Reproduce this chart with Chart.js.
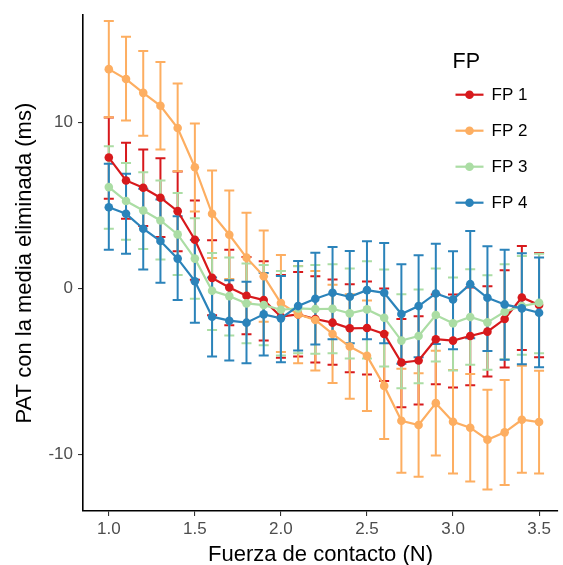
<!DOCTYPE html>
<html>
<head>
<meta charset="utf-8">
<script src="https://cdn.jsdelivr.net/npm/chart.js@4/dist/chart.umd.min.js"></script>
<style>
  html, body { margin: 0; padding: 0; background: #ffffff; }
  #wrap { width: 563px; height: 565px; }
</style>
</head>
<body>
<div id="wrap"><canvas id="chart" width="563" height="565"></canvas></div>
<script>
// Contact force (N)
const fuerza = [1.0, 1.1, 1.2, 1.3, 1.4, 1.5, 1.6, 1.7, 1.8, 1.9, 2.0, 2.1, 2.2,
                2.3, 2.4, 2.5, 2.6, 2.7, 2.8, 2.9, 3.0, 3.1, 3.2, 3.3, 3.4, 3.5];

const seriesNames = ['FP 1', 'FP 2', 'FP 3', 'FP 4'];
const seriesColors = ['#D7191C', '#FDAE61', '#ABDDA4', '#2B83BA'];

// Mean-removed PAT (ms) with lower / upper error limits
const fp1Mean  = [7.87, 6.49, 6.05, 5.45, 4.64, 2.92, 0.62, 0.04, -0.46, -0.72, -1.72, -1.58, -1.86, -2.08, -2.42, -2.40, -2.76, -4.48, -4.36, -3.08, -3.16, -2.88, -2.62, -1.86, -0.56, -1.02];
const fp1Lower = [5.39, 4.18, 3.74, 3.08, 2.22, 0.50, -1.64, -2.24, -2.78, -3.16, -4.20, -4.12, -4.48, -4.62, -5.07, -5.20, -5.59, -7.17, -7.01, -5.79, -5.99, -5.85, -5.33, -4.78, -3.72, -4.16];
const fp1Upper = [10.29, 8.77, 8.35, 7.83, 7.03, 5.29, 2.88, 2.32, 1.88, 1.62, 0.80, 0.98, 0.72, 0.52, 0.24, 0.40, -0.02, -1.86, -1.70, -0.38, -0.38, 0.04, 0.12, 1.08, 2.54, 2.12];

const fp2Mean  = [13.20, 12.60, 11.77, 10.99, 9.65, 7.29, 4.48, 3.22, 1.84, 0.72, -0.90, -1.58, -1.92, -2.76, -3.52, -4.08, -5.89, -7.99, -8.25, -6.93, -8.05, -8.41, -9.13, -8.69, -7.93, -8.07];
const fp2Lower = [10.30, 10.10, 9.19, 8.35, 7.05, 4.62, 1.82, 0.55, -0.87, -2.02, -3.85, -4.52, -4.97, -5.72, -6.67, -7.41, -9.09, -11.13, -11.37, -10.09, -11.17, -11.65, -12.13, -11.87, -11.13, -11.17];
const fp2Upper = [16.10, 15.15, 14.30, 13.63, 12.33, 9.93, 7.09, 5.89, 4.55, 3.48, 2.00, 1.34, 1.04, 0.20, -0.37, -0.75, -2.69, -4.85, -5.13, -3.77, -4.93, -5.17, -6.13, -5.53, -4.68, -4.98];

const fp3Mean  = [6.09, 5.25, 4.68, 4.08, 3.24, 1.78, -0.16, -0.48, -0.92, -1.02, -1.30, -1.22, -1.26, -1.24, -1.52, -1.28, -1.78, -3.16, -2.88, -1.62, -2.12, -1.74, -2.06, -1.42, -1.08, -0.88];
const fp3Lower = [3.58, 2.92, 2.36, 1.72, 0.80, -0.64, -2.52, -2.86, -3.32, -3.44, -4.06, -3.92, -3.96, -3.92, -4.24, -4.24, -4.72, -6.03, -5.73, -4.42, -4.97, -4.62, -4.92, -4.28, -4.02, -3.92];
const fp3Upper = [8.55, 7.55, 6.99, 6.49, 5.73, 4.22, 2.12, 1.84, 1.48, 1.40, 1.04, 1.32, 1.40, 1.44, 1.18, 1.62, 1.12, -0.36, -0.08, 1.18, 0.64, 1.14, 0.78, 1.44, 1.94, 2.08];

const fp4Mean  = [4.88, 4.48, 3.58, 2.84, 1.78, 0.42, -1.72, -1.96, -2.08, -1.58, -1.82, -1.08, -0.64, -0.28, -0.52, -0.12, -0.28, -1.56, -1.08, -0.32, -0.68, 0.24, -0.58, -0.98, -1.22, -1.48];
const fp4Lower = [2.32, 2.08, 1.12, 0.32, -0.72, -2.08, -4.12, -4.36, -4.52, -4.06, -4.46, -3.76, -3.40, -3.08, -3.32, -3.08, -3.32, -4.56, -4.16, -3.36, -3.68, -3.02, -3.78, -4.32, -4.58, -4.76];
const fp4Upper = [7.49, 6.89, 5.99, 5.35, 4.34, 2.90, 0.64, 0.48, 0.38, 0.92, 0.74, 1.64, 2.14, 2.48, 2.24, 2.82, 2.72, 1.44, 1.98, 2.68, 2.22, 3.44, 2.52, 2.32, 2.10, 1.84];

const xTicks = [1.0, 1.5, 2.0, 2.5, 3.0, 3.5];
const yTicks = [-10, 0, 10];

const means  = [fp1Mean, fp2Mean, fp3Mean, fp4Mean];
const lowers = [fp1Lower, fp2Lower, fp3Lower, fp4Lower];
const uppers = [fp1Upper, fp2Upper, fp3Upper, fp4Upper];

const FONT = "'Liberation Sans', Arial, Helvetica, sans-serif";

const datasets = seriesNames.map((name, s) => ({
  label: name,
  data: fuerza.map((x, i) => ({ x: x, y: means[s][i] })),
  borderColor: seriesColors[s],
  backgroundColor: seriesColors[s],
  pointBackgroundColor: seriesColors[s],
  pointBorderColor: seriesColors[s],
  borderWidth: 2.2,
  pointRadius: 4.3,
  pointBorderWidth: 0,
  pointHoverRadius: 4.3,
  tension: 0,
  fill: false,
  order: seriesNames.length - 1 - s
}));

// Vertical error bars with caps, drawn under the lines and points
const errorBars = {
  id: 'errorBars',
  beforeDatasetsDraw(chart) {
    const { ctx, scales: { x, y } } = chart;
    const cap = 5;
    ctx.save();
    ctx.lineWidth = 2;
    ctx.lineCap = 'butt';
    for (let s = 0; s < seriesNames.length; s++) {
      ctx.strokeStyle = seriesColors[s];
      for (let i = 0; i < fuerza.length; i++) {
        const px = x.getPixelForValue(fuerza[i]);
        const yl = y.getPixelForValue(lowers[s][i]);
        const yu = y.getPixelForValue(uppers[s][i]);
        ctx.beginPath();
        ctx.moveTo(px, yl); ctx.lineTo(px, yu);
        ctx.moveTo(px - cap, yl); ctx.lineTo(px + cap, yl);
        ctx.moveTo(px - cap, yu); ctx.lineTo(px + cap, yu);
        ctx.stroke();
      }
    }
    ctx.restore();
  }
};

// Legend placed inside the plotting panel, top right
const panelLegend = {
  id: 'panelLegend',
  afterDatasetsDraw(chart) {
    const { ctx, chartArea } = chart;
    const left = chartArea.right - 105.5;
    const top = chartArea.top + 47;
    ctx.save();
    ctx.fillStyle = '#000000';
    ctx.textBaseline = 'middle';
    ctx.textAlign = 'left';
    ctx.font = '21.5px ' + FONT;
    ctx.fillText('FP', left, top);
    ctx.font = '17px ' + FONT;
    for (let s = 0; s < seriesNames.length; s++) {
      const cy = top + 32.5 + s * 36;
      ctx.strokeStyle = seriesColors[s];
      ctx.lineWidth = 2.2;
      ctx.beginPath();
      ctx.moveTo(left + 3, cy); ctx.lineTo(left + 31, cy);
      ctx.stroke();
      ctx.fillStyle = seriesColors[s];
      ctx.beginPath();
      ctx.arc(left + 17, cy, 4.3, 0, Math.PI * 2);
      ctx.fill();
      ctx.fillStyle = '#000000';
      ctx.fillText(seriesNames[s], left + 39, cy + 1);
    }
    ctx.restore();
  }
};

new Chart(document.getElementById('chart'), {
  type: 'line',
  data: { datasets: datasets },
  plugins: [errorBars, panelLegend],
  options: {
    responsive: false,
    animation: false,
    devicePixelRatio: 1,
    layout: { padding: { left: 0, top: 15, right: 5, bottom: 0 } },
    plugins: {
      legend: { display: false },
      tooltip: { enabled: false }
    },
    scales: {
      x: {
        type: 'linear',
        min: 0.85,
        max: 3.61,
        afterBuildTicks(scale) { scale.ticks = xTicks.map(v => ({ value: v })); },
        afterFit(scale) { scale.height = 54; },
        ticks: {
          color: '#4D4D4D',
          font: { family: FONT, size: 17 },
          padding: 3,
          maxRotation: 0,
          callback: v => v.toFixed(1)
        },
        grid: {
          drawOnChartArea: false,
          drawTicks: true,
          tickLength: 5,
          color: '#333333',
          lineWidth: 1.1
        },
        border: { display: true, color: '#000000', width: 1.6 },
        title: {
          display: true,
          text: 'Fuerza de contacto (N)',
          color: '#000000',
          font: { family: FONT, size: 22 },
          padding: { top: 0, bottom: -3.5 }
        }
      },
      y: {
        type: 'linear',
        min: -13.43,
        max: 16.45,
        afterBuildTicks(scale) { scale.ticks = yTicks.map(v => ({ value: v })); },
        afterFit(scale) { scale.width = 83; },
        ticks: {
          color: '#4D4D4D',
          font: { family: FONT, size: 17 },
          padding: 5,
          callback: v => String(v)
        },
        grid: {
          drawOnChartArea: false,
          drawTicks: true,
          tickLength: 5,
          color: '#333333',
          lineWidth: 1.1
        },
        border: { display: true, color: '#000000', width: 1.6 },
        title: {
          display: true,
          text: 'PAT con la media eliminada (ms)',
          color: '#000000',
          font: { family: FONT, size: 22 },
          padding: { top: 12, bottom: 0 }
        }
      }
    }
  }
});
</script>
</body>
</html>
